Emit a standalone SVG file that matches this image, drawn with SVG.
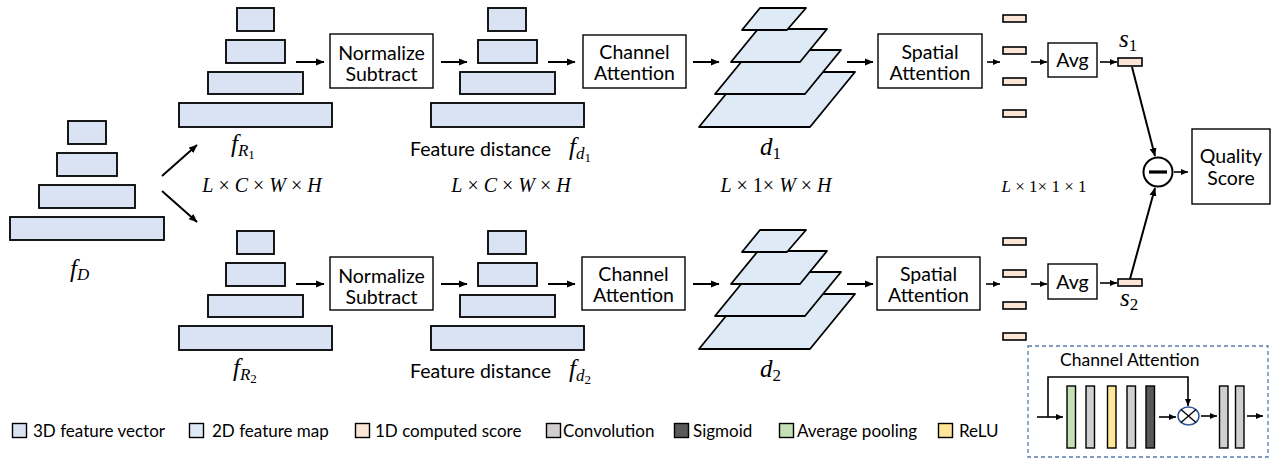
<svg xmlns="http://www.w3.org/2000/svg" width="1278" height="462" viewBox="0 0 1278 462">
<style>
.fv{fill:#dae3f3;stroke:#000;stroke-width:1.8}
.fm{fill:#deebf7;stroke:#000;stroke-width:1.8;stroke-linejoin:round}
.sc{fill:#fbe5d6;stroke:#000;stroke-width:1.6}
.box{fill:#fff;stroke:#000;stroke-width:1.4}
.t{font-family:Lato,"Liberation Sans",sans-serif;font-size:19.5px;fill:#000;text-anchor:middle}
.lg{font-family:Lato,"Liberation Sans",sans-serif;font-size:17px;fill:#000}
.fdt{font-family:Lato,"Liberation Sans",sans-serif;font-size:19.5px;fill:#000}
.cat{font-family:Lato,"Liberation Sans",sans-serif;font-size:17.5px;fill:#000}
.m{font-family:"Liberation Serif",serif;font-size:25px;fill:#000;font-style:italic}
.dim{font-family:"Liberation Serif",serif;font-size:20px;fill:#000;text-anchor:middle}
.dims{font-family:"Liberation Serif",serif;font-size:17px;fill:#000;text-anchor:middle}
.ar{stroke:#000;stroke-width:2;fill:none;marker-end:url(#ah)}
.ars{stroke:#000;stroke-width:1.6;fill:none;marker-end:url(#ahs)}
.bar{stroke:#000;stroke-width:1.4}
</style>
<defs>
<marker id="ah" markerUnits="userSpaceOnUse" markerWidth="9" markerHeight="8" refX="8" refY="4" orient="auto"><path d="M0,0.5 L8.5,4 L0,7.5 z" fill="#000"/></marker>
<marker id="ahs" markerUnits="userSpaceOnUse" markerWidth="8" markerHeight="7" refX="7" refY="3.5" orient="auto"><path d="M0,0.5 L7,3.5 L0,6.5 z" fill="#000"/></marker>
</defs>

<g id="fD">
<rect class="fv" x="68" y="121" width="38" height="23"/>
<rect class="fv" x="57" y="153" width="60" height="23"/>
<rect class="fv" x="39" y="185" width="96" height="23"/>
<rect class="fv" x="10" y="217" width="154" height="23"/>
<text class="m" x="70" y="277">f<tspan font-size="17" dy="3">D</tspan></text>
</g>

<g id="fR1">
<rect class="fv" x="237" y="8" width="37" height="23"/>
<rect class="fv" x="226" y="40" width="59" height="23"/>
<rect class="fv" x="208" y="72" width="95" height="22"/>
<rect class="fv" x="179" y="103" width="153" height="24"/>
<text class="m" x="231" y="152">f<tspan font-size="17" dy="4">R</tspan><tspan font-size="13" dy="3" font-style="normal">1</tspan></text>
</g>
<g id="fR2">
<rect class="fv" x="237" y="231" width="37" height="23"/>
<rect class="fv" x="226" y="263" width="59" height="23"/>
<rect class="fv" x="208" y="295" width="95" height="22"/>
<rect class="fv" x="179" y="326" width="153" height="24"/>
<text class="m" x="233" y="376">f<tspan font-size="17" dy="4">R</tspan><tspan font-size="13" dy="3" font-style="normal">2</tspan></text>
</g>

<g id="norm1"><rect class="box" x="330" y="34" width="103" height="54"/><text class="t" x="381.5" y="60">Normalize</text><text class="t" x="381.5" y="81">Subtract</text></g>
<g id="norm2"><rect class="box" x="330" y="257" width="103" height="53"/><text class="t" x="381.5" y="283">Normalize</text><text class="t" x="381.5" y="304">Subtract</text></g>

<g id="fd1">
<rect class="fv" x="488" y="8" width="38" height="23"/>
<rect class="fv" x="478" y="40" width="59" height="23"/>
<rect class="fv" x="460" y="72" width="95" height="22"/>
<rect class="fv" x="431" y="103" width="153" height="24"/>
<text class="fdt" x="410" y="156">Feature distance</text>
<text class="m" x="569" y="155">f<tspan font-size="17" dy="4">d</tspan><tspan font-size="13" dy="3" font-style="normal">1</tspan></text>
</g>
<g id="fd2">
<rect class="fv" x="488" y="231" width="38" height="23"/>
<rect class="fv" x="478" y="263" width="59" height="23"/>
<rect class="fv" x="460" y="295" width="95" height="22"/>
<rect class="fv" x="431" y="326" width="153" height="24"/>
<text class="fdt" x="410" y="378">Feature distance</text>
<text class="m" x="569" y="377">f<tspan font-size="17" dy="4">d</tspan><tspan font-size="13" dy="3" font-style="normal">2</tspan></text>
</g>

<g id="ca1"><rect class="box" x="583" y="35" width="103" height="53"/><text class="t" x="634.5" y="59">Channel</text><text class="t" x="634.5" y="80">Attention</text></g>
<g id="ca2"><rect class="box" x="582" y="257" width="103" height="53"/><text class="t" x="633.5" y="281">Channel</text><text class="t" x="633.5" y="302">Attention</text></g>

<g id="d1">
<polygon class="fm" points="699,127 744,72 855,72 810,127"/>
<polygon class="fm" points="715,94 751,50 841,50 805,94"/>
<polygon class="fm" points="731,62 758,29 827,29 800,62"/>
<polygon class="fm" points="742,30 760,8 806,8 787,30"/>
<text class="m" x="760" y="155">d<tspan font-size="17" dy="4" font-style="normal">1</tspan></text>
</g>
<g id="d2">
<polygon class="fm" points="699,349 744,294 855,294 810,349"/>
<polygon class="fm" points="715,316 751,272 841,272 805,316"/>
<polygon class="fm" points="731,284 758,251 827,251 800,284"/>
<polygon class="fm" points="742,252 760,230 806,230 787,252"/>
<text class="m" x="760" y="377">d<tspan font-size="17" dy="4" font-style="normal">2</tspan></text>
</g>

<g id="sa1"><rect class="box" x="878" y="34" width="104" height="54"/><text class="t" x="930" y="59">Spatial</text><text class="t" x="930" y="80">Attention</text></g>
<g id="sa2"><rect class="box" x="877" y="257" width="103" height="53"/><text class="t" x="928.5" y="281">Spatial</text><text class="t" x="928.5" y="302">Attention</text></g>

<g id="scores1">
<rect class="sc" x="1003" y="15" width="23" height="7"/>
<rect class="sc" x="1003" y="47" width="23" height="7"/>
<rect class="sc" x="1003" y="78" width="23" height="7"/>
<rect class="sc" x="1003" y="110" width="23" height="7"/>
</g>
<g id="scores2">
<rect class="sc" x="1003" y="238" width="23" height="7"/>
<rect class="sc" x="1003" y="270" width="23" height="7"/>
<rect class="sc" x="1003" y="302" width="23" height="7"/>
<rect class="sc" x="1003" y="333" width="23" height="7"/>
</g>

<g id="avg1"><rect class="box" x="1048" y="43" width="49" height="34"/><text class="t" x="1072.5" y="67">Avg</text></g>
<g id="avg2"><rect class="box" x="1048" y="264" width="49" height="35"/><text class="t" x="1072.5" y="289">Avg</text></g>

<g id="s1"><rect class="sc" x="1118" y="58" width="24" height="8"/><text class="m" x="1119" y="47">s<tspan font-size="17" dy="4" font-style="normal">1</tspan></text></g>
<g id="s2"><rect class="sc" x="1118" y="279" width="24" height="7"/><text class="m" x="1120" y="306">s<tspan font-size="17" dy="4" font-style="normal">2</tspan></text></g>

<g id="minus"><circle cx="1158" cy="172" r="14.5" fill="#fff" stroke="#000" stroke-width="2"/><line x1="1149" y1="172" x2="1167" y2="172" stroke="#000" stroke-width="3.2"/></g>

<g id="quality"><rect class="box" x="1192" y="129" width="78" height="75"/><text class="t" x="1231" y="163">Quality</text><text class="t" x="1231" y="185">Score</text></g>

<g id="dims">
<text class="dim" x="262" y="192"><tspan font-style="italic">L</tspan> × <tspan font-style="italic">C</tspan> × <tspan font-style="italic">W</tspan> × <tspan font-style="italic">H</tspan></text>
<text class="dim" x="511" y="192"><tspan font-style="italic">L</tspan> × <tspan font-style="italic">C</tspan> × <tspan font-style="italic">W</tspan> × <tspan font-style="italic">H</tspan></text>
<text class="dim" x="776" y="192"><tspan font-style="italic">L</tspan> × 1× <tspan font-style="italic">W</tspan> × <tspan font-style="italic">H</tspan></text>
<text class="dims" x="1044" y="192"><tspan font-style="italic">L</tspan> × 1× 1 × 1</text>
</g>

<g id="connectors">
<line class="ar" x1="162" y1="176" x2="197" y2="145"/>
<line class="ar" x1="162" y1="191" x2="197" y2="222"/>
<line class="ar" x1="296" y1="62" x2="324" y2="62"/>
<line class="ar" x1="441" y1="62" x2="467" y2="62"/>
<line class="ar" x1="548" y1="62" x2="575" y2="62"/>
<line class="ar" x1="693" y1="62" x2="719" y2="62"/>
<line class="ar" x1="847" y1="62" x2="873" y2="62"/>
<line class="ars" x1="987" y1="62" x2="1000" y2="62"/>
<line class="ars" x1="1031" y1="62" x2="1047" y2="62"/>
<line class="ars" x1="1100" y1="62" x2="1117" y2="62"/>
<line class="ar" x1="296" y1="284" x2="324" y2="284"/>
<line class="ar" x1="441" y1="284" x2="467" y2="284"/>
<line class="ar" x1="548" y1="284" x2="575" y2="284"/>
<line class="ar" x1="693" y1="284" x2="719" y2="284"/>
<line class="ar" x1="847" y1="284" x2="873" y2="284"/>
<line class="ars" x1="986" y1="284" x2="1000" y2="284"/>
<line class="ars" x1="1031" y1="284" x2="1047" y2="284"/>
<line class="ars" x1="1100" y1="283" x2="1117" y2="283"/>
<line class="ar" x1="1132" y1="67" x2="1155" y2="156"/>
<line class="ar" x1="1130" y1="279" x2="1155" y2="188"/>
<line class="ars" x1="1174" y1="172" x2="1188" y2="172"/>
</g>

<g id="channel-attention-detail">
<rect x="1028" y="346" width="240" height="111" fill="none" stroke="#5a7bb0" stroke-width="1.3" stroke-dasharray="4,3"/>
<text class="cat" x="1060" y="366">Channel Attention</text>
<rect class="bar" x="1067" y="386" width="8.5" height="62" fill="#c5e0b4"/>
<rect class="bar" x="1086" y="386" width="8.5" height="62" fill="#d0cece"/>
<rect class="bar" x="1107.5" y="386" width="8.5" height="62" fill="#ffe699"/>
<rect class="bar" x="1127" y="386" width="8.5" height="62" fill="#d0cece"/>
<rect class="bar" x="1146" y="386" width="8.5" height="62" fill="#595959"/>
<rect class="bar" x="1219.5" y="386" width="8.5" height="62" fill="#d0cece"/>
<rect class="bar" x="1235.5" y="386" width="8.5" height="62" fill="#d0cece"/>
<ellipse cx="1188.5" cy="416" rx="10.5" ry="9" fill="#fff" stroke="#2f5597" stroke-width="1.5"/>
<path d="M1181,409.5 L1196,422.5 M1196,409.5 L1181,422.5" stroke="#000" stroke-width="1.3"/>
</g>
<g id="inset-connectors">
<line class="ars" x1="1037" y1="417" x2="1063" y2="417"/>
<path class="ars" d="M1048,417 V377 H1188 V406"/>
<line class="ars" x1="1159" y1="417" x2="1176" y2="417"/>
<line class="ars" x1="1201" y1="416" x2="1217" y2="416"/>
<line class="ars" x1="1247" y1="416" x2="1263" y2="416"/>
</g>

<g id="legend">
<rect x="12.5" y="423.5" width="14" height="14" fill="#dae3f3" stroke="#000" stroke-width="1.4"/><text class="lg" x="33" y="437">3D feature vector</text>
<rect x="189.5" y="423.5" width="14" height="14" fill="#deebf7" stroke="#000" stroke-width="1.4"/><text class="lg" x="212" y="437">2D feature map</text>
<rect x="355.5" y="423.5" width="14" height="14" fill="#fbe5d6" stroke="#000" stroke-width="1.4"/><text class="lg" x="375" y="437">1D computed score</text>
<rect x="546.5" y="423.5" width="14" height="14" fill="#d0cece" stroke="#000" stroke-width="1.4"/><text class="lg" x="563" y="437">Convolution</text>
<rect x="674.5" y="423.5" width="14" height="14" fill="#595959" stroke="#000" stroke-width="1.4"/><text class="lg" x="693" y="437">Sigmoid</text>
<rect x="779.5" y="423.5" width="14" height="14" fill="#c5e0b4" stroke="#000" stroke-width="1.4"/><text class="lg" x="797" y="437">Average pooling</text>
<rect x="938.5" y="423.5" width="14" height="14" fill="#ffe699" stroke="#000" stroke-width="1.4"/><text class="lg" x="959" y="437">ReLU</text>
</g>
</svg>
